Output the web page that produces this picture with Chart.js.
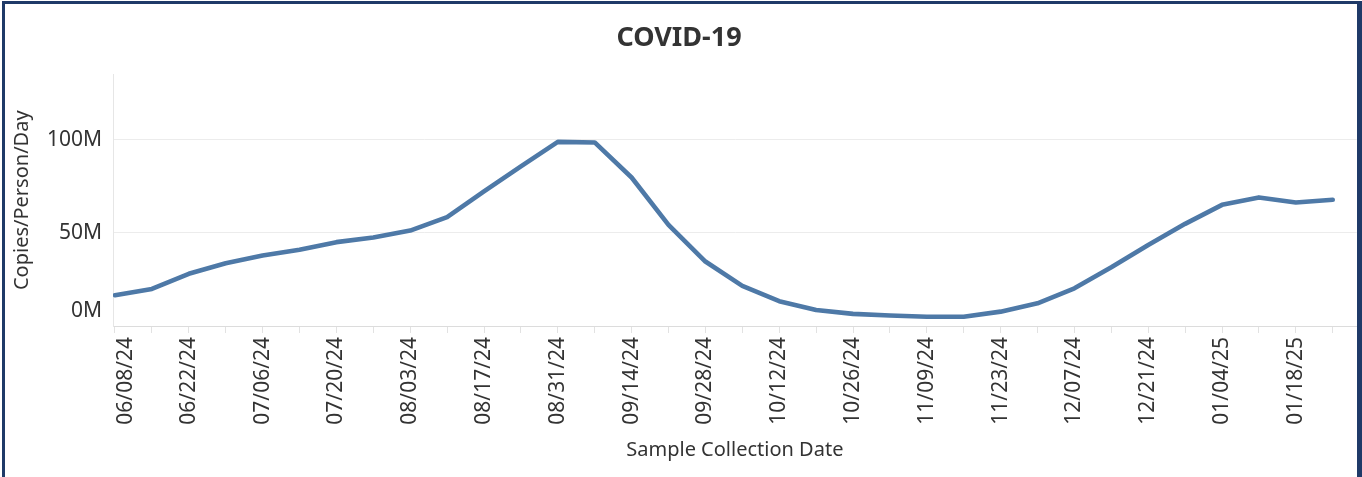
<!DOCTYPE html>
<html>
<head>
<meta charset="utf-8">
<script src="https://cdn.jsdelivr.net/npm/chart.js@4"></script>
<style>
  html,body{margin:0;padding:0;background:#fff;overflow:hidden;}
  #wrap{position:relative;width:1362px;height:477px;}
  #frame{position:absolute;left:2px;top:1px;width:1360px;height:520px;box-sizing:border-box;
    border:3px solid #1f3a68;border-right-width:5px;pointer-events:none;}
</style>
</head>
<body>
<div id="wrap">
  <canvas id="covid-chart" width="1362" height="477"></canvas>
  <div id="frame"></div>
</div>
<script>
// weekly sample collection dates
const dates = ['06/08/24','06/15/24','06/22/24','06/29/24','07/06/24','07/13/24','07/20/24','07/27/24',
  '08/03/24','08/10/24','08/17/24','08/24/24','08/31/24','09/07/24','09/14/24','09/21/24',
  '09/28/24','10/05/24','10/12/24','10/19/24','10/26/24','11/02/24','11/09/24','11/16/24',
  '11/23/24','11/30/24','12/07/24','12/14/24','12/21/24','12/28/24','01/04/25','01/11/25',
  '01/18/25','01/25/25'];
// copies/person/day, millions
const copiesM = [16.5,19.9,28,33.7,37.8,40.9,45,47.5,
  51.2,58.4,72.2,85.6,98.8,98.5,79.7,54.3,
  34.6,21.5,13.3,8.6,6.5,5.6,5.0,5.0,
  7.7,12.2,20.2,31.5,43.5,54.8,65,69,
  66.3,67.7];
const yTicksM = [0,50,100];

const FONT='"Noto Sans", "Open Sans", sans-serif';
const TXT='#333333';

// tableau nudges the edge tick labels inward so they sit inside the pane
const edgeLabelNudge={
  id:'edgeLabelNudge',
  beforeDraw(chart){
    chart.scales.y.getLabelItems().forEach(it=>{
      if(it.label==='0M' && !it._nudged){ it.options.translation[1]-=15; it._nudged=true; }
    });
    chart.scales.x.getLabelItems().forEach(it=>{
      if(it.label===dates[0] && !it._nudged){ it.options.translation[0]+=11; it._nudged=true; }
    });
  }
};

new Chart(document.getElementById('covid-chart').getContext('2d'),{
  type:'line',
  data:{datasets:[{
    label:'COVID-19',
    data:copiesM.map((v,i)=>({x:i,y:v})),
    borderColor:'#4e79a7',borderWidth:4.6,pointRadius:0,tension:0,
    borderJoinStyle:'round',borderCapStyle:'round',fill:false
  }]},
  options:{
    responsive:false,animation:false,
    layout:{padding:{left:0,right:4,top:0,bottom:0}},
    plugins:{
      legend:{display:false},tooltip:{enabled:false},
      title:{display:true,text:'COVID-19',color:TXT,
        font:{family:FONT,size:27,weight:'bold'},padding:{top:22,bottom:20}}
    },
    scales:{
      x:{type:'linear',min:-0.054,max:33.65,
        afterFit:s=>{s.height=151;},
        grid:{drawOnChartArea:false,drawTicks:true,tickLength:7,color:'#e2e2e2'},
        border:{display:true,color:'#dcdcdc',dash:[2,2]},
        ticks:{stepSize:1,autoSkip:false,includeBounds:false,minRotation:90,maxRotation:90,
          padding:4,color:TXT,font:{family:FONT,size:21},
          callback:v=>(Number.isInteger(v)&&v%2===0)?dates[v]:''},
        title:{display:true,text:'Sample Collection Date',color:TXT,
          font:{family:FONT,size:20},padding:{top:0,bottom:15}}
      },
      y:{min:0,max:135,
        afterFit:s=>{s.width=113;},
        afterBuildTicks:s=>{s.ticks=yTicksM.map(v=>({value:v}));},
        grid:{drawTicks:false,color:c=>c.tick&&c.tick.value===0?'rgba(0,0,0,0)':'#ececec'},
        border:{display:true,color:'#e6e6e6'},
        ticks:{padding:11,color:TXT,font:{family:FONT,size:21},callback:v=>v+'M'},
        title:{display:true,text:'Copies/Person/Day',color:TXT,
          font:{family:FONT,size:20},padding:{top:10,bottom:0}}
      }
    }
  },
  plugins:[edgeLabelNudge]
});
</script>
</body>
</html>
